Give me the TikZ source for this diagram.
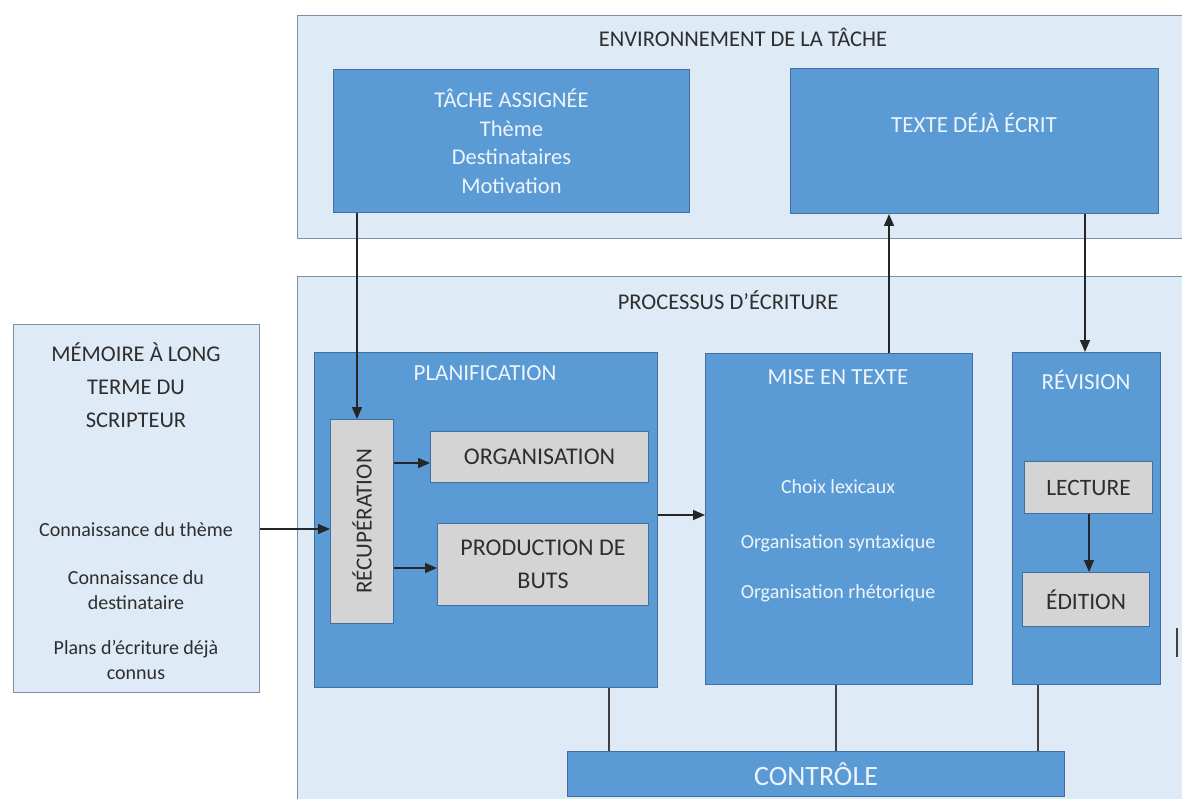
\documentclass[tikz,border=0pt]{standalone}
\usepackage{fontspec}
\setmainfont{Carlito}
\usetikzlibrary{arrows.meta}
\definecolor{lightbg}{HTML}{DEEAF6}
\definecolor{lightborder}{HTML}{7D8FA3}
\definecolor{bluefill}{HTML}{5B9BD5}
\definecolor{blueborder}{HTML}{41719C}
\definecolor{grayfill}{HTML}{D4D4D4}
\definecolor{whitetext}{HTML}{EEF4FB}
\definecolor{darktext}{HTML}{2E2E2E}
\tikzset{
  panel/.style={draw=lightborder, fill=lightbg, line width=1.2pt, inner sep=0pt},
  bluebox/.style={draw=blueborder, fill=bluefill, line width=1pt, inner sep=0pt, text=whitetext, align=center},
  graybox/.style={draw=blueborder, fill=grayfill, line width=1pt, inner sep=0pt, text=darktext, align=center},
  ttl/.style={inner sep=0pt, font=\fontsize{23}{28}\selectfont},
  itm/.style={inner sep=0pt, font=\fontsize{20}{25}\selectfont, align=center},
  arr/.style={-{Triangle[length=12pt,width=10pt]}, line width=1.5pt, draw=black!85},
  ln/.style={line width=1.2pt, draw=black!75}
}
\begin{document}
\begin{tikzpicture}[x=1pt,y=-1pt]
\useasboundingbox (0,0) rectangle (1182,799);
\clip (0,0) rectangle (1182,799);
\fill[white] (0,0) rectangle (1182,799);
% outer panels
\node[panel, minimum width=900, minimum height=223, anchor=north west] (env) at (297,15) {};
\node[panel, minimum width=900, minimum height=540, anchor=north west] (proc) at (297,276) {};
\node[ttl, text=darktext, font=\fontsize{22.5}{28}\selectfont] (envt) at (743,37) {ENVIRONNEMENT DE LA TÂCHE};
\node[ttl, text=darktext, font=\fontsize{22.5}{28}\selectfont] (proct) at (728,300) {PROCESSUS D’ÉCRITURE};
% memory
\node[panel, minimum width=246, minimum height=368, anchor=north west] (mem) at (13,324) {};
\node[ttl, text=darktext, align=center, font=\fontsize{22.5}{33}\selectfont] (memt) at (136,385) {MÉMOIRE À LONG\\TERME DU\\SCRIPTEUR};
\node[itm, text=darktext] (m1) at (136,530) {Connaissance du thème};
\node[itm, text=darktext] (m2) at (136,590) {Connaissance du\\destinataire};
\node[itm, text=darktext] (m3) at (136,660) {Plans d’écriture déjà\\connus};
% environment boxes
\node[bluebox, minimum width=356, minimum height=143, anchor=north west, font=\fontsize{22.5}{28.5}\selectfont] (tache) at (333,69) {TÂCHE ASSIGNÉE\\Thème\\Destinataires\\Motivation};
\node[bluebox, minimum width=368, minimum height=145, anchor=north west] (texte) at (790,68) {};
\node[ttl, text=whitetext] (textet) at (974,123) {TEXTE DÉJÀ ÉCRIT};
% planification
\node[bluebox, minimum width=343, minimum height=335, anchor=north west] (plan) at (314,352) {};
\node[ttl, text=whitetext] (plant) at (485,373) {PLANIFICATION};
\node[graybox, minimum width=63, minimum height=204, anchor=north west] (rec) at (330,419) {};
\node[ttl, text=darktext, rotate=90] (rect) at (rec.center) {RÉCUPÉRATION};
\node[graybox, minimum width=218, minimum height=51, anchor=north west, font=\fontsize{24}{28}\selectfont] (org) at (430,431) {ORGANISATION};
\node[graybox, minimum width=211, minimum height=82, anchor=north west, font=\fontsize{24}{33}\selectfont] (prod) at (437,523) {PRODUCTION DE\\BUTS};
% mise en texte
\node[bluebox, minimum width=267, minimum height=331, anchor=north west] (mise) at (705,353) {};
\node[ttl, text=whitetext] (miset) at (838,377) {MISE EN TEXTE};
\node[itm, text=whitetext] (x1) at (838,487) {Choix lexicaux};
\node[itm, text=whitetext] (x2) at (838,543) {Organisation syntaxique};
\node[itm, text=whitetext] (x3) at (838,593) {Organisation rhétorique};
% revision
\node[bluebox, minimum width=148, minimum height=332, anchor=north west] (rev) at (1012,352) {};
\node[ttl, text=whitetext] (revt) at (1086,380) {RÉVISION};
\node[graybox, minimum width=128, minimum height=52, anchor=north west, font=\fontsize{23.5}{28}\selectfont] (lect) at (1024,461) {LECTURE};
\node[graybox, minimum width=127, minimum height=54, anchor=north west, font=\fontsize{23.5}{28}\selectfont] (edit) at (1022,572) {ÉDITION};
% controle
\node[bluebox, minimum width=497, minimum height=45, anchor=north west, font=\fontsize{28}{32}\selectfont] (ctrl) at (567,751) {CONTRÔLE};
% helper coordinates
\coordinate (c1) at (357,0);
\coordinate (c2) at (889,0);
\coordinate (c3) at (1085,0);
\coordinate (c4) at (1089,0);
\coordinate (c5) at (609,0);
\coordinate (c6) at (836,0);
\coordinate (c7) at (1038,0);
\coordinate (r1) at (0,529);
\coordinate (r2) at (0,463);
\coordinate (r3) at (0,568);
\coordinate (r4) at (0,515);
% arrows
\draw[arr] (tache.south -| c1) -- (rec.north -| c1);
\draw[arr] (mem.east |- r1) -- (rec.west |- r1);
\draw[arr] (rec.east |- r2) -- (org.west |- r2);
\draw[arr] (rec.east |- r3) -- (prod.west |- r3);
\draw[arr] (plan.east |- r4) -- (mise.west |- r4);
\draw[arr] (mise.north -| c2) -- (texte.south -| c2);
\draw[arr] (texte.south -| c3) -- (rev.north -| c3);
\draw[arr] (lect.south -| c4) -- (edit.north -| c4);
\draw[ln] (plan.south -| c5) -- (ctrl.north -| c5);
\draw[ln] (mise.south -| c6) -- (ctrl.north -| c6);
\draw[ln] (rev.south -| c7) -- (ctrl.north -| c7);
% stray mark
\coordinate (s1) at (1177,628);
\coordinate (s2) at (1177,657);
\draw[ln, line width=1.5pt] (s1) -- (s2);
\end{tikzpicture}
\end{document}
